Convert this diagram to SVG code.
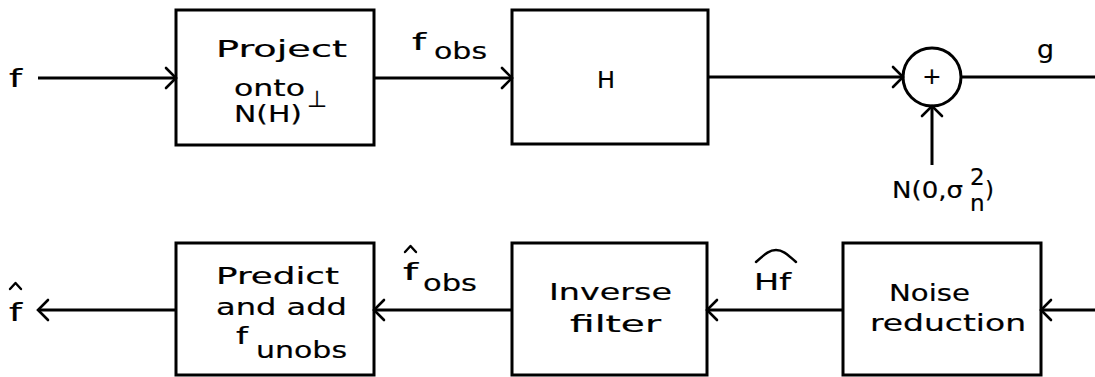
<svg xmlns="http://www.w3.org/2000/svg" width="1095" height="377" viewBox="0 0 1095 377">
<style>
text{font-family:"DejaVu Sans","Liberation Sans",sans-serif;fill:#000;stroke:#000;stroke-width:0.2;font-size:23px}
.box{fill:none;stroke:#000;stroke-width:3}
.ln{fill:none;stroke:#000;stroke-width:3}
.hat{fill:none;stroke:#000;stroke-width:2.4;stroke-linecap:round;stroke-linejoin:round}
.lbl{font-size:25px}
</style>
<defs>
<marker id="arr" markerUnits="userSpaceOnUse" markerWidth="20" markerHeight="26" viewBox="0 0 20 26" refX="13" refY="13" orient="auto" overflow="visible">
<path d="M3,3 L13,13 L3,23" fill="none" stroke="#000" stroke-width="2.6" stroke-linecap="round"/>
</marker>
</defs>
<rect width="1095" height="377" fill="#fff"/>

<g id="connectors">
<line class="ln" x1="38" y1="78" x2="176" y2="78" marker-end="url(#arr)"/>
<line class="ln" x1="374" y1="78" x2="512" y2="78" marker-end="url(#arr)"/>
<line class="ln" x1="708" y1="77" x2="903" y2="77" marker-end="url(#arr)"/>
<line class="ln" x1="961" y1="77" x2="1095" y2="77"/>
<line class="ln" x1="932" y1="165" x2="932" y2="106" marker-end="url(#arr)"/>
<line class="ln" x1="1095" y1="310" x2="1041" y2="310" marker-end="url(#arr)"/>
<line class="ln" x1="843" y1="310" x2="707" y2="310" marker-end="url(#arr)"/>
<line class="ln" x1="512" y1="310" x2="374" y2="310" marker-end="url(#arr)"/>
<line class="ln" x1="176" y1="310" x2="38" y2="310" marker-end="url(#arr)"/>
</g>

<g id="label-f">
<text class="lbl" x="9" y="87" textLength="13" lengthAdjust="spacingAndGlyphs">f</text>
</g>

<g id="node-project">
<rect class="box" x="176" y="10" width="198" height="135"/>
<text x="216" y="57" textLength="131" lengthAdjust="spacingAndGlyphs">Project</text>
<text x="234" y="96" textLength="71" lengthAdjust="spacingAndGlyphs">onto</text>
<text x="307" y="107" font-size="19">⊥</text>
<text x="234" y="122" textLength="68" lengthAdjust="spacingAndGlyphs">N(H)</text>
</g>

<g id="label-fobs">
<text x="412" y="50" font-size="21" textLength="14" lengthAdjust="spacingAndGlyphs">f</text>
<text x="434" y="59" font-size="22" textLength="53" lengthAdjust="spacingAndGlyphs">obs</text>
</g>

<g id="node-H">
<rect class="box" x="512" y="10" width="196" height="134"/>
<text x="597" y="88" font-size="27" textLength="18" lengthAdjust="spacingAndGlyphs">H</text>
</g>

<g id="node-sum">
<circle class="box" cx="932" cy="77" r="29"/>
<text x="932" y="84" font-size="20" text-anchor="middle">+</text>
</g>

<g id="label-g">
<text class="lbl" x="1037" y="58" textLength="17" lengthAdjust="spacingAndGlyphs">g</text>
</g>

<g id="label-noise">
<text x="892" y="198" font-size="22" textLength="71" lengthAdjust="spacingAndGlyphs">N(0,σ</text>
<text x="970" y="185" font-size="13">2</text>
<text x="970" y="211" font-size="13">n</text>
<text x="985" y="198" font-size="22">)</text>
</g>

<g id="node-noise-reduction">
<rect class="box" x="843" y="243" width="198" height="132"/>
<text x="889" y="301" textLength="81" lengthAdjust="spacingAndGlyphs">Noise</text>
<text x="870" y="331" textLength="156" lengthAdjust="spacingAndGlyphs">reduction</text>
</g>

<g id="label-Hf">
<path class="hat" d="M756,262 C766,253 770,250 776,250 C782,250 786,253 796,262"/>
<text x="754" y="290" font-size="23" textLength="37" lengthAdjust="spacingAndGlyphs">Hf</text>
</g>

<g id="node-inverse">
<rect class="box" x="512" y="243" width="195" height="132"/>
<text x="549" y="300" textLength="123" lengthAdjust="spacingAndGlyphs">Inverse</text>
<text x="570" y="332" textLength="91" lengthAdjust="spacingAndGlyphs">filter</text>
</g>

<g id="label-fhat-obs">
<path class="hat" d="M405,252 L410.5,246 L416,252"/>
<text x="403" y="280" font-size="24" textLength="15" lengthAdjust="spacingAndGlyphs">f</text>
<text x="423" y="291" font-size="22" textLength="54" lengthAdjust="spacingAndGlyphs">obs</text>
</g>

<g id="node-predict">
<rect class="box" x="176" y="243" width="198" height="132"/>
<text x="216" y="284" textLength="123" lengthAdjust="spacingAndGlyphs">Predict</text>
<text x="216" y="315" textLength="131" lengthAdjust="spacingAndGlyphs">and add</text>
<text x="236" y="344" font-size="22" textLength="12" lengthAdjust="spacingAndGlyphs">f</text>
<text x="256" y="358" font-size="22" textLength="91" lengthAdjust="spacingAndGlyphs">unobs</text>
</g>

<g id="label-fhat">
<path class="hat" d="M10,289 L15.5,283 L21,289"/>
<text class="lbl" x="9" y="321" textLength="13" lengthAdjust="spacingAndGlyphs">f</text>
</g>
</svg>
